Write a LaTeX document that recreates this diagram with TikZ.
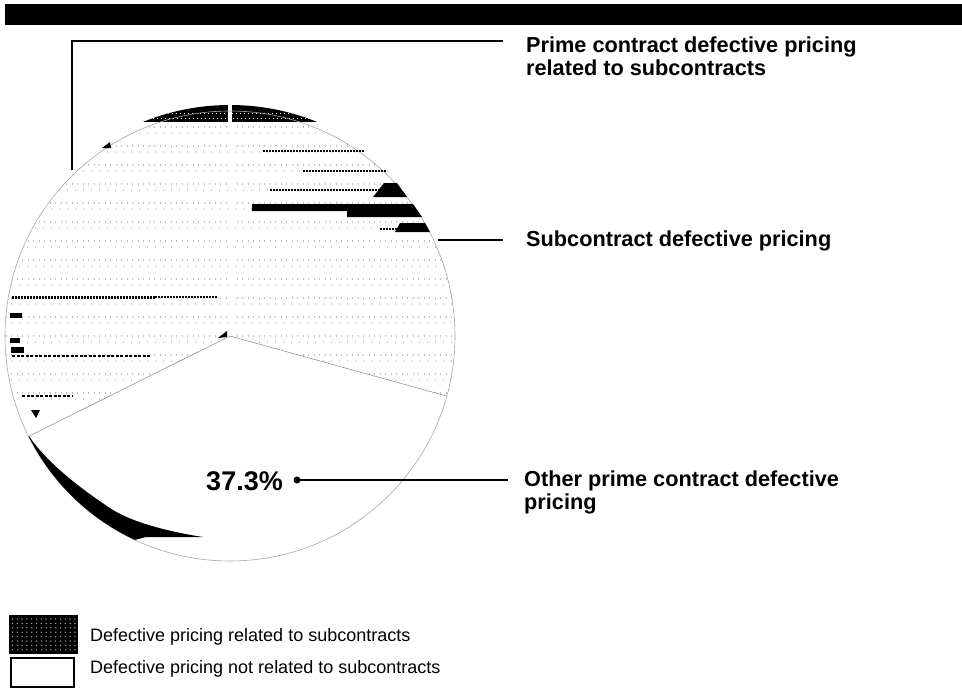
\documentclass[tikz,border=0pt]{standalone}
\usepackage{fontspec}
\setmainfont{Liberation Sans}
\usetikzlibrary{calc}
\begin{document}
\begin{tikzpicture}[x=1pt,y=-1pt,
  lbl/.style={font=\bfseries\fontsize{21.7}{23}\selectfont, inner sep=0pt, align=left},
  legtxt/.style={font=\fontsize{18}{21}\selectfont, inner sep=0pt},
  leader/.style={line width=2.8pt, black},
  rim/.style={draw=gray!70, line width=0.6pt},
  speck/.style={gray!50, line width=1.3pt, dash pattern=on 1pt off 4.5pt},
  speckb/.style={gray!35, line width=1.2pt, dash pattern=on 1pt off 7pt},
  streak/.style={black, line width=2.6pt, dash pattern=on 2.2pt off 0.8pt},
  blob/.style={fill=black}
  ]
\useasboundingbox (0,0) rectangle (962,688);
% top bar
\fill[black] (5,4) rectangle (962,25);

% pie
\coordinate (C) at (230,336);
\begin{scope}
  \clip (C) -- ++(-15.5:225pt) arc[start angle=-15.5, end angle=206.5, radius=225pt] -- cycle;
  \foreach \yy in {127,146,...,400} { \draw[speck] (0,\yy) -- (470,\yy); }
  \foreach \yy in {133,152,...,400} { \draw[speckb] (3,\yy) -- (470,\yy); }
\end{scope}
% dark band on top
\begin{scope}
  \clip (C) circle[radius=231pt];
  \fill[black] (140,95) rectangle (320,122);
  \draw[white, line width=1pt, dash pattern=on 1pt off 3pt] (140,113) -- (320,113);
  \draw[white, line width=1pt, dash pattern=on 1pt off 3pt] (141,118) -- (320,118);
\end{scope}
% gap between the two shaded slices
\draw[white, line width=4pt] (C) -- ++(90:240pt);
% outline and slice edges
\draw[rim] (C) circle[radius=225pt];
\draw[rim, draw=gray!85] (C) -- ++(206.5:225pt);
\draw[rim, draw=gray!85] (C) -- ++(-15.5:225pt);

% dark crescent lower left
\fill[black] (C) ++(206.5:225pt) arc[start angle=206.5, end angle=245, radius=225pt]
  -- (146,537) -- (203,537) .. controls (170,532) and (130,522) .. (110,508)
  .. controls (75,485) and (45,460) .. (29,436) -- cycle;

% dark streaks (right slice)
\draw[streak] (263,151) -- (365,151);
\draw[streak] (303,171) -- (387,171);
\draw[streak, line width=2pt] (270,190) -- (380,190);
\fill[blob] (373,197) -- (384,183) -- (397,183) -- (407,197) -- cycle;
\fill[blob] (252,204) -- (413,204) -- (422,217) -- (347,217) -- (347,211) -- (252,211) -- cycle;
\draw[streak, line width=2pt] (380,229) -- (398,229);
\fill[blob] (395,232) -- (400,223) -- (425,223) -- (430,232) -- cycle;
% dark streaks (left slice)
\draw[streak, line width=3pt] (12,297) -- (155,297);
\draw[streak, line width=2pt, dash pattern=on 1.5pt off 1.5pt] (155,297) -- (218,297);
\draw[streak, line width=2pt, dash pattern=on 3pt off 1.5pt] (12,356) -- (150,356);
\draw[streak, line width=1.5pt, dash pattern=on 3pt off 1.5pt] (22,396) -- (73,396);
\fill[blob] (10,313) rectangle (22,318);
\fill[blob] (10,338) rectangle (20,343);
\fill[blob] (11,347) rectangle (24,353);
\fill[blob] (31,410) -- (40,410) -- (36,418) -- cycle;
\fill[blob] (102,148) -- (110,142) -- (111,148) -- cycle;
\fill[blob] (218,338) -- (227,331) -- (227,337) -- cycle;

% labels
\node[lbl, anchor=base west] (prime) at (526,75) {Prime contract defective pricing\\related to subcontracts};
\node[lbl, anchor=base west] (sub) at (526,246) {Subcontract defective pricing};
\node[lbl, anchor=base west] (other) at (524,509) {Other prime contract defective\\pricing};
\node[font=\bfseries\fontsize{27}{30}\selectfont, inner sep=0pt, anchor=base east] (pct) at (283,490) {37.3\%};

% leaders
\coordinate (primeTip) at (503,41);
\coordinate (primeEnd) at (72,170);
\draw[leader] (primeTip) -| (primeEnd);
\coordinate (subStart) at (438,240);
\coordinate (subTip) at (503,240);
\draw[leader] (subStart) -- (subTip);
\node[circle, fill=black, inner sep=0pt, minimum size=7pt] (pdot) at (297,480) {};
\coordinate (otherTip) at (508,480);
\draw[leader] (pdot.center) -- (otherTip);

% legend
\node[draw=black, fill=black, minimum width=68pt, minimum height=38pt, inner sep=0pt, anchor=north west] (legA) at (9,615) {};
\foreach \i in {0,...,13} { \foreach \j in {0,...,7} {
  \fill[gray!70] ({12.5+\i*4.8},{619+\j*4.4}) circle[radius=0.75pt]; } }
\node[draw=black, line width=2pt, minimum width=63pt, minimum height=29pt, inner sep=0pt, anchor=north west] (legB) at (10,657) {};
\node[legtxt, anchor=base west] (legAt) at (90,641) {Defective pricing related to subcontracts};
\node[legtxt, anchor=base west] (legBt) at (90,673) {Defective pricing not related to subcontracts};
\end{tikzpicture}
\end{document}
